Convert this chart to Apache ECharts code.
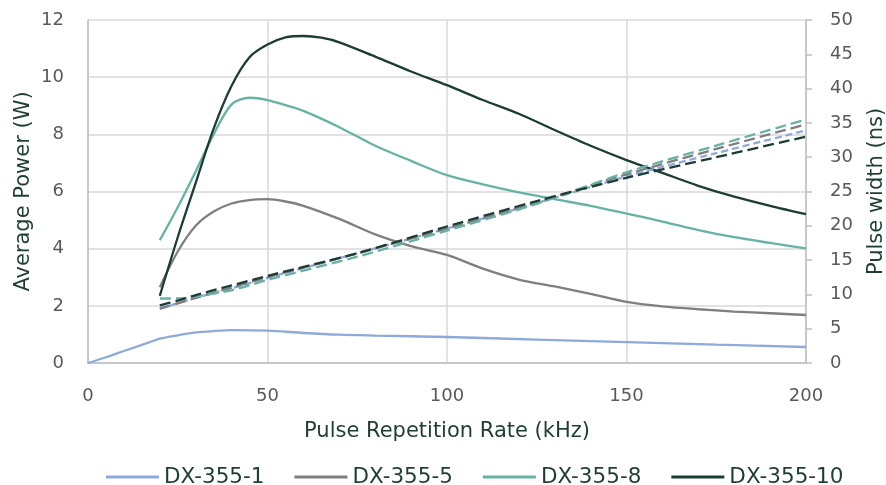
<!DOCTYPE html>
<html>
<head>
<meta charset="utf-8">
<script src="https://cdn.jsdelivr.net/npm/echarts@6/dist/echarts.min.js"></script>
<style>
html,body{margin:0;padding:0;background:#fff;}
#chart{width:886px;height:485px;}
</style>
</head>
<body>
<div id="chart"></div>
<script>
// ---- Data ----
const seriesNames = ['DX-355-1', 'DX-355-5', 'DX-355-8', 'DX-355-10'];
const xTicks = [0, 50, 100, 150, 200];

// Average power (W) vs pulse repetition rate (kHz)
const rate1  = [0, 5, 10, 16.8, 20, 25, 30, 35, 40, 50, 60, 70, 80, 100, 125, 150, 175, 200];
const power1 = [0, 0.2, 0.42, 0.71, 0.85, 0.97, 1.07, 1.12, 1.15, 1.13, 1.05, 0.99, 0.96, 0.91, 0.82, 0.73, 0.64, 0.56];

const rate5  = [20, 25, 30, 35, 40, 45, 50, 55, 60, 70, 80, 90, 100, 110, 120, 130, 140, 150, 160, 170, 180, 190, 200];
const power5 = [2.65, 3.9, 4.8, 5.3, 5.58, 5.7, 5.73, 5.65, 5.5, 5.04, 4.5, 4.09, 3.78, 3.3, 2.92, 2.68, 2.42, 2.14, 1.98, 1.88, 1.8, 1.74, 1.68];

const rate8  = [20, 25, 30, 35, 40, 45, 50, 55, 60, 70, 80, 90, 100, 110, 120, 130, 140, 150, 160, 170, 180, 190, 200];
const power8 = [4.3, 5.45, 6.7, 8.0, 9.05, 9.28, 9.2, 9.02, 8.82, 8.25, 7.6, 7.07, 6.57, 6.25, 5.97, 5.73, 5.5, 5.23, 4.95, 4.65, 4.4, 4.2, 4.01];

const rate10  = [20, 25, 30, 35, 40, 45, 50, 55, 60, 65, 70, 80, 90, 100, 110, 120, 130, 140, 150, 160, 170, 180, 190, 200];
const power10 = [2.35, 4.4, 6.3, 8.2, 9.7, 10.7, 11.14, 11.39, 11.44, 11.38, 11.22, 10.72, 10.2, 9.72, 9.2, 8.72, 8.15, 7.6, 7.1, 6.65, 6.2, 5.82, 5.5, 5.21];

// Pulse width (ns) vs pulse repetition rate (kHz)
const ratePW = [20, 25, 30, 40, 50, 75, 100, 125, 150, 175, 200];
const width1  = [8.0, 8.7, 9.5, 10.9, 12.4, 16.0, 19.6, 23.3, 27.2, 30.6, 33.9];
const width5  = [7.9, 8.7, 9.5, 11.0, 12.5, 16.0, 19.6, 23.4, 27.5, 31.2, 34.8];
const width8  = [9.4, 9.4, 9.7, 10.6, 12.1, 15.5, 19.3, 23.2, 27.8, 31.7, 35.5];
const width10 = [8.4, 9.1, 9.9, 11.3, 12.7, 16.0, 19.9, 23.6, 27.0, 30.0, 33.0];

const colors = ['#8eaadb', '#7f7f7f', '#66b3a4', '#1e3c36'];

// ---- Build ----
function pairs(xs, ys) { return xs.map((x, i) => [x, ys[i]]); }

const FONT = 'DejaVu Sans';
const TITLE_COLOR = '#1e3d36';
const LABEL_COLOR = '#595959';

const powerData = [pairs(rate1, power1), pairs(rate5, power5), pairs(rate8, power8), pairs(rate10, power10)];
const widthData = [pairs(ratePW, width1), pairs(ratePW, width5), pairs(ratePW, width8), pairs(ratePW, width10)];
const dashTypes = [[7, 4], [11, 5], [11, 5], [11, 5]];

const series = [];
seriesNames.forEach((n, i) => {
  series.push({
    name: n, type: 'line', yAxisIndex: 0, data: powerData[i],
    symbol: 'none', smooth: 0.3, color: colors[i],
    lineStyle: { width: 2.3, color: colors[i] }, z: 3
  });
});
seriesNames.forEach((n, i) => {
  series.push({
    name: n + ' pulse width', type: 'line', yAxisIndex: 1, data: widthData[i],
    symbol: 'none', smooth: 0.3, color: colors[i],
    lineStyle: { width: 2.3, color: colors[i], type: dashTypes[i] }, z: 4
  });
});

const chart = echarts.init(document.getElementById('chart'), null, { renderer: 'canvas' });
chart.setOption({
  animation: false,
  backgroundColor: '#ffffff',
  textStyle: { fontFamily: FONT },
  grid: { left: 88, right: 80, top: 20, bottom: 122, containLabel: false, outerBoundsMode: 'none' },
  legend: {
    data: seriesNames.map(n => ({ name: n, icon: 'rect' })),
    left: 101, top: 461,
    itemWidth: 53, itemHeight: 3, itemGap: 30,
    textStyle: { fontFamily: FONT, fontSize: 21.5, color: TITLE_COLOR }
  },
  xAxis: {
    type: 'value', min: xTicks[0], max: xTicks[xTicks.length - 1], interval: xTicks[1] - xTicks[0],
    name: 'Pulse Repetition Rate (kHz)', nameLocation: 'middle', nameGap: 58,
    nameTextStyle: { fontFamily: FONT, fontSize: 21, color: TITLE_COLOR },
    axisLine: { show: true, lineStyle: { color: '#bfbfbf', width: 1.5 } },
    axisTick: { show: false },
    axisLabel: { fontFamily: FONT, fontSize: 18, color: LABEL_COLOR, margin: 24 },
    splitLine: { show: true, lineStyle: { color: '#d9d9d9', width: 1.5 } }
  },
  yAxis: [
    {
      type: 'value', min: 0, max: 12, interval: 2,
      name: 'Average Power (W)', nameLocation: 'middle', nameGap: 54, nameRotate: 90,
      nameMoveOverlap: false,
      nameTextStyle: { fontFamily: FONT, fontSize: 21, color: TITLE_COLOR },
      axisLine: { show: true, lineStyle: { color: '#bfbfbf', width: 1.5 } },
      axisTick: { show: false },
      axisLabel: { fontFamily: FONT, fontSize: 18, color: LABEL_COLOR, margin: 24 },
      splitLine: { show: true, lineStyle: { color: '#d9d9d9', width: 1.5 } }
    },
    {
      type: 'value', min: 0, max: 50, interval: 5, position: 'right',
      name: 'Pulse width (ns)', nameLocation: 'middle', nameGap: 60, nameRotate: 90,
      nameTextStyle: { fontFamily: FONT, fontSize: 21, color: TITLE_COLOR },
      axisLine: { show: true, lineStyle: { color: '#bfbfbf', width: 1.5 } },
      axisTick: { show: true, inside: false, length: 6, lineStyle: { color: '#bfbfbf', width: 1.5 } },
      axisLabel: { fontFamily: FONT, fontSize: 18, color: LABEL_COLOR, margin: 24 },
      splitLine: { show: false }
    }
  ],
  series: series
});
</script>
</body>
</html>
